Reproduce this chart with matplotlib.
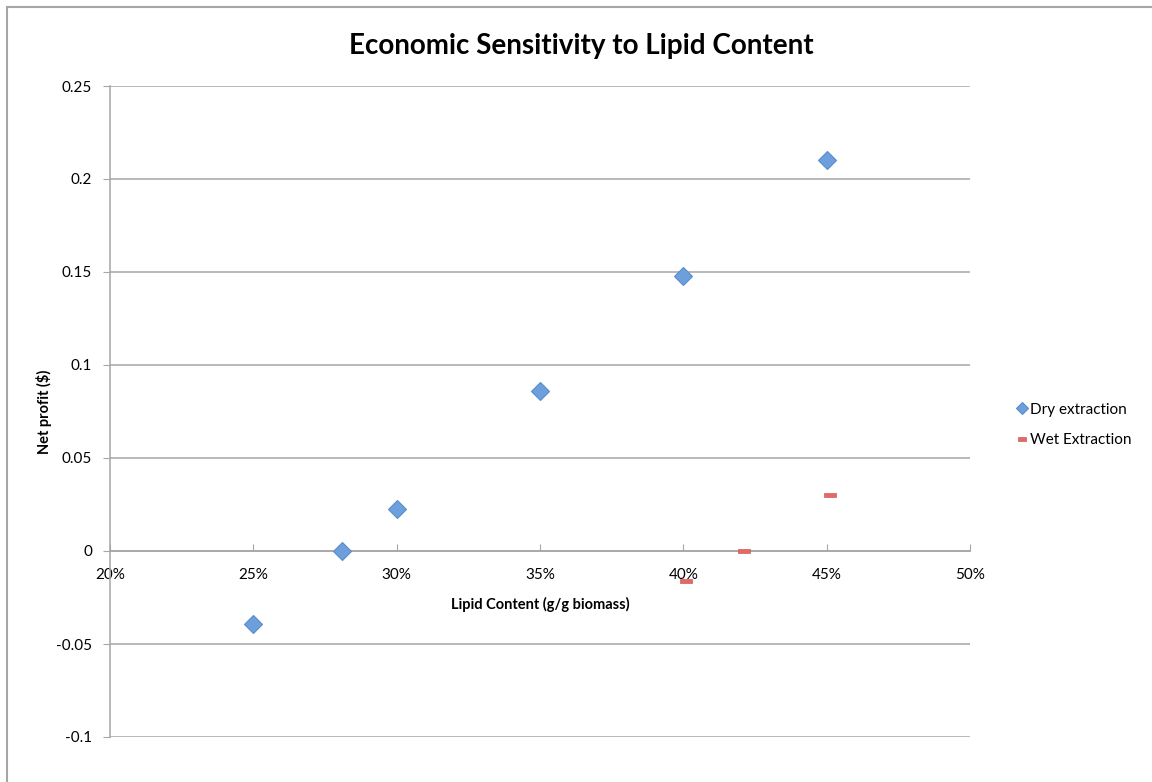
import matplotlib
matplotlib.use("Agg")
import matplotlib.pyplot as plt
from matplotlib.path import Path
from matplotlib.patches import Rectangle
from matplotlib.ticker import PercentFormatter, MultipleLocator

# Lipid content (g/g biomass) and net profit ($)
dry_lipid = [0.25, 0.281, 0.30, 0.35, 0.40, 0.45]
dry_profit = [-0.039, 0.0, 0.0226, 0.086, 0.148, 0.210]

wet_lipid = [0.401, 0.421, 0.451]
wet_profit = [-0.016, 0.0, 0.030]

title = "Economic Sensitivity to Lipid Content"
x_label = "Lipid Content (g/g biomass)"
y_label = "Net profit ($)"
series_names = ["Dry extraction", "Wet Extraction"]

plt.rcParams['font.family'] = ['Lato', 'DejaVu Sans']

fig = plt.figure(figsize=(11.52, 7.82), dpi=100)
ax = fig.add_axes([110 / 1152, 1 - 737 / 782, 860 / 1152, 651 / 782])

grid_c = '#A6A6A6'

# chart frame
fig.patches.append(Rectangle((7 / 1152, -0.05), 1.2, 1 - 7 / 782 + 0.05,
                             transform=fig.transFigure, fill=False,
                             edgecolor='#A6A6A6', linewidth=1.5))

ax.set_xlim(0.20, 0.50)
ax.set_ylim(-0.1, 0.25)
ax.xaxis.set_major_locator(MultipleLocator(0.05))
ax.yaxis.set_major_locator(MultipleLocator(0.05))
ax.xaxis.set_major_formatter(PercentFormatter(1.0, decimals=0))
ax.yaxis.set_major_formatter(lambda v, p: f"{v:g}" if abs(v) > 1e-9 else "0")

ax.grid(axis='y', color=grid_c, linewidth=1.1)
ax.set_axisbelow(True)
for s in ['top', 'right']:
    ax.spines[s].set_visible(False)
ax.spines['bottom'].set_position(('data', 0))
ax.spines['bottom'].set_color(grid_c)
ax.spines['left'].set_color(grid_c)
ax.spines['bottom'].set_linewidth(1.1)
ax.spines['left'].set_linewidth(1.1)

ax.tick_params(axis='x', direction='in', length=5, color=grid_c, labelsize=11,
               pad=12)
ax.tick_params(axis='y', direction='out', length=5, color=grid_c, labelsize=11,
               pad=8)

diamond_kw = dict(marker='D', markersize=9, markerfacecolor='#6C9FDB',
                  markeredgecolor='#5A8DCB', markeredgewidth=0.8)
rect = Path([(-1, -0.38), (1, -0.38), (1, 0.38), (-1, 0.38), (-1, -0.38)],
            [Path.MOVETO, Path.LINETO, Path.LINETO, Path.LINETO, Path.CLOSEPOLY])
rect_kw = dict(marker=rect, markersize=9, markerfacecolor='#E06A66',
               markeredgecolor='#D45A56', markeredgewidth=0.5)

ax.plot(dry_lipid, dry_profit, linestyle='none', label=series_names[0],
        zorder=5, clip_on=False, **diamond_kw)
ax.plot(wet_lipid, wet_profit, linestyle='none', label=series_names[1],
        zorder=5, clip_on=False, **rect_kw)

fig.text(581 / 1152, 1 - 46 / 782, title, ha='center', va='center',
         fontsize=20, fontweight='bold')
fig.text(540 / 1152, 1 - 604 / 782, x_label, ha='center', va='center',
         fontsize=10.5, fontweight='bold')
fig.text(44 / 1152, 1 - 412 / 782, y_label, ha='center', va='center',
         rotation=90, fontsize=10.5, fontweight='bold')

leg = fig.legend(loc='center left', bbox_to_anchor=(1012 / 1152, 1 - 425 / 782),
                 frameon=False, fontsize=11, handlelength=0.5, handletextpad=0.3,
                 labelspacing=1.1, borderaxespad=0, markerscale=0.7)

fig.savefig('out.png', dpi=100)
